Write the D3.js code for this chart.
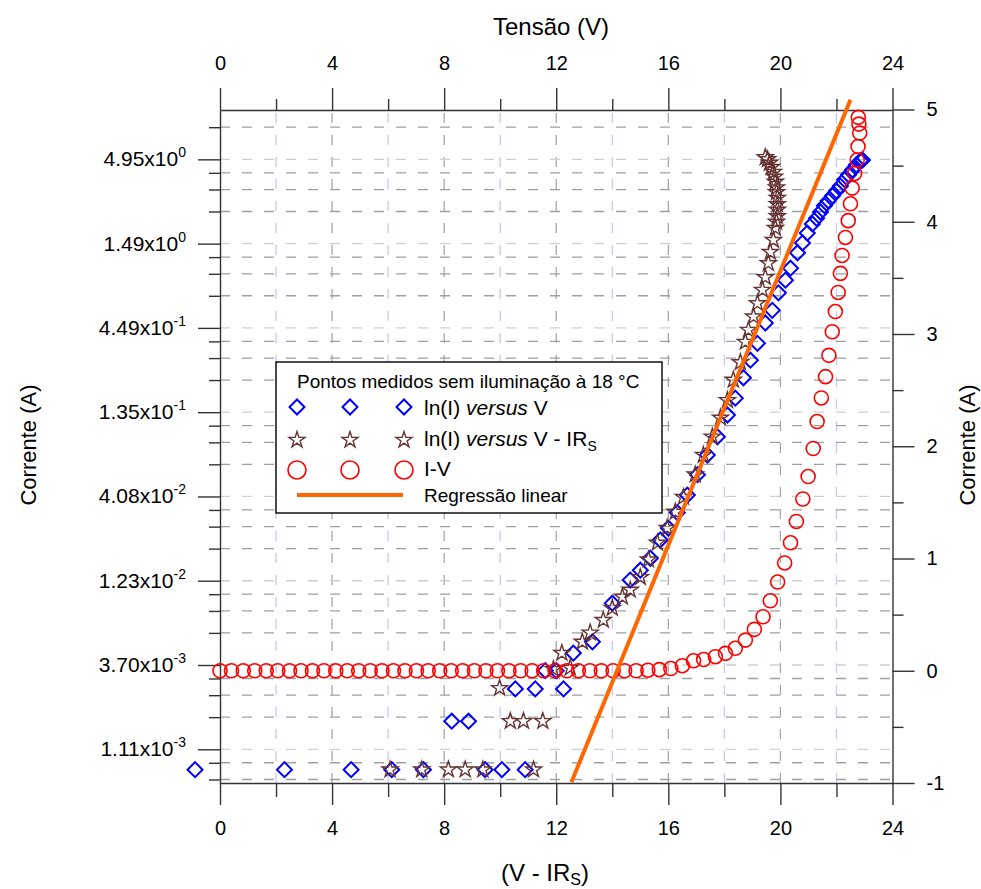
<!DOCTYPE html>
<html><head><meta charset="utf-8">
<script src="https://cdn.jsdelivr.net/npm/d3@7"></script>
<style>
body{margin:0;background:#fff}
svg{display:block}
text{font-family:"Liberation Sans",Arial,sans-serif;fill:#000}
</style>
</head><body>
<svg id="c" width="981" height="889"></svg>
<script>
// ---------- data ----------
const xTicks = [0, 4, 8, 12, 16, 20, 24];
const xMinorTicks = [2, 6, 10, 14, 18, 22];
const lnTicks = [-6.8, -5.6, -4.4, -3.2, -2.0, -0.8, 0.4, 1.6];
const lnTickMantissa = ["1.11", "3.70", "1.23", "4.08", "1.35", "4.49", "1.49", "4.95"];
const lnTickExponent = ["-3", "-3", "-2", "-2", "-1", "-1", "0", "0"];
const lnDomain = [-7.28, 2.3026];
const rightTicks = [-1, 0, 1, 2, 3, 4, 5];
const rightMinorTicks = [-0.5, 0.5, 1.5, 2.5, 3.5, 4.5];

// ln(I) versus V  (blue diamonds)
const diamondV = [-0.89, 2.30, 4.68, 6.13, 7.26, 8.27, 8.87, 9.46, 10.06, 10.89, 10.54, 11.25, 11.61, 12.0, 12.26,
  12.61, 13.29, 14.0, 14.64, 15.0, 15.36, 15.71, 16.0, 16.32, 16.68, 17.04, 17.39, 17.75, 18.11, 18.39, 18.68,
  18.93, 19.18, 19.46, 19.71, 19.93, 20.18, 20.36, 20.61, 20.79, 20.96, 21.14, 21.29, 21.43, 21.57, 21.71,
  21.86, 22.0, 22.14, 22.29, 22.43, 22.57, 22.71, 22.86, 22.93];
const diamondLn = [-7.09, -7.09, -7.09, -7.09, -7.09, -6.40, -6.40, -7.09, -7.09, -7.09, -5.94, -5.94, -5.68, -5.68, -5.94,
  -5.43, -5.27, -4.72, -4.39, -4.25, -4.08, -3.82, -3.65, -3.43, -3.18, -2.89, -2.61, -2.35, -2.04, -1.80, -1.51,
  -1.26, -1.02, -0.73, -0.55, -0.30, -0.12, 0.05, 0.27, 0.41, 0.55, 0.68, 0.76, 0.85, 0.94, 1.01,
  1.08, 1.15, 1.22, 1.31, 1.38, 1.45, 1.52, 1.58, 1.59];

// ln(I) versus V - IRs  (brown stars)
const starV = [6.07, 7.20, 8.15, 8.75, 9.38, 11.19, 9.98, 10.36, 10.83, 11.52, 11.90, 12.20, 12.50,
  12.93, 13.21, 13.68, 14.0, 14.36, 14.64, 15.0, 15.29, 15.61, 15.96, 16.25, 16.54, 16.96, 17.25, 17.57,
  17.86, 18.11, 18.32, 18.57, 18.75, 18.86, 19.04, 19.18, 19.36, 19.46, 19.57, 19.64, 19.75, 19.82, 19.86,
  19.89, 19.89, 19.89, 19.89, 19.86, 19.86, 19.82, 19.79, 19.75, 19.68, 19.61, 19.54, 19.46];
const starLn = [-7.09, -7.09, -7.09, -7.09, -7.09, -7.09, -5.93, -6.40, -6.40, -6.40, -5.66, -5.43, -5.64,
  -5.27, -5.14, -4.96, -4.79, -4.63, -4.53, -4.35, -4.10, -3.86, -3.65, -3.42, -3.21, -2.89, -2.61, -2.35,
  -2.08, -1.83, -1.54, -1.29, -1.00, -0.83, -0.64, -0.45, -0.26, -0.08, 0.12, 0.28, 0.45, 0.62, 0.71,
  0.79, 0.88, 0.96, 1.05, 1.13, 1.20, 1.28, 1.35, 1.42, 1.49, 1.55, 1.60, 1.63];

// I-V (red circles, right axis)
const ivV = [0, 0.41, 0.83, 1.24, 1.65, 2.06, 2.48, 2.89, 3.30, 3.71, 4.13, 4.54, 4.95, 5.36, 5.78, 6.19,
  6.60, 7.01, 7.43, 7.84, 8.25, 8.66, 9.08, 9.49, 9.90, 10.31, 10.73, 11.14, 11.55, 11.96, 12.38, 12.79,
  13.20, 13.61, 14.03, 14.44, 14.85, 15.27, 15.68, 16.09, 16.50, 16.90, 17.26, 17.68, 18.04, 18.39, 18.75,
  19.07, 19.38, 19.64, 19.90, 20.15, 20.36, 20.57, 20.80, 20.99, 21.17, 21.31, 21.46, 21.61, 21.73, 21.85,
  21.96, 22.06, 22.14, 22.20, 22.32, 22.42, 22.50, 22.56, 22.65, 22.74, 22.77, 22.83, 22.80, 22.78];
const ivI = [0, 0, 0, 0, 0, 0, 0, 0, 0, 0, 0, 0, 0, 0, 0, 0,
  0, 0, 0, 0, 0, 0, 0, 0, 0, 0, 0, 0, 0, 0, 0, 0,
  0, 0, 0, 0, 0, 0.005, 0.01, 0.02, 0.045, 0.089, 0.10, 0.125, 0.155, 0.20, 0.273,
  0.369, 0.481, 0.623, 0.79, 0.96, 1.14, 1.33, 1.53, 1.73, 1.98, 2.22, 2.43, 2.62, 2.81, 3.02,
  3.20, 3.37, 3.54, 3.70, 3.86, 4.01, 4.16, 4.30, 4.43, 4.55, 4.67, 4.79, 4.87, 4.93];

// linear regression (ln(I) = slope*V + intercept)
const regV = [12.54, 22.5];
const regSlope = 0.976;
const regIntercept = -19.51;

// ---------- drawing ----------
const svg = d3.select("#c");
const FONT = '"Liberation Sans",Arial,sans-serif';
const x = d3.scaleLinear().domain([0, 24]).range([220, 892.5]);
const yLn = d3.scaleLinear().domain(lnDomain).range([783, 110]);
const yI = d3.scaleLinear().domain([-1, 5]).range([783, 109.5]);
const fmt = d => String(d);

// left minor ticks (linear quarters between e-based majors)
const ext = [lnTicks[0] - 1.2, ...lnTicks, lnTicks[lnTicks.length - 1] + 1.2];
const lnMinor = [];
for (let i = 0; i < ext.length - 1; i++) {
  const a = Math.exp(ext[i]), b = Math.exp(ext[i + 1]);
  for (let j = 1; j <= 3; j++) {
    const v = Math.log(a + j * (b - a) / 4);
    if (v > lnDomain[0] && v < lnDomain[1]) lnMinor.push(v);
  }
}

// grid
const grid = svg.append("g");
xMinorTicks.forEach(t => grid.append("line").attr("x1", x(t)).attr("x2", x(t)).attr("y1", 783).attr("y2", 110)
  .attr("stroke", "#c8c8f4").attr("stroke-width", 1.3).attr("stroke-dasharray", "10,12"));
xTicks.filter(t => t > 0 && t < 24).forEach(t => grid.append("line").attr("x1", x(t)).attr("x2", x(t)).attr("y1", 783).attr("y2", 110)
  .attr("stroke", "#a8a8a8").attr("stroke-width", 1.3).attr("stroke-dasharray", "10,12"));
lnMinor.forEach(t => grid.append("line").attr("x1", 220).attr("x2", 892).attr("y1", yLn(t)).attr("y2", yLn(t))
  .attr("stroke", "#a0a0a0").attr("stroke-width", 1.3).attr("stroke-dasharray", "10,12"));
lnTicks.forEach(t => grid.append("line").attr("x1", 220).attr("x2", 892).attr("y1", yLn(t)).attr("y2", yLn(t))
  .attr("stroke", "#cfcfcf").attr("stroke-width", 1.3).attr("stroke-dasharray", "10,12"));

// axes
function styleAxis(g) {
  g.selectAll("path.domain").attr("stroke", "#333").attr("stroke-width", 1.4);
  g.selectAll("line").attr("stroke", "#333").attr("stroke-width", 1.4);
  g.selectAll("text").attr("font-size", 20).attr("font-family", FONT).attr("fill", "#000");
}
const gb = svg.append("g").attr("transform", "translate(0,783)")
  .call(d3.axisBottom(x).tickValues(xTicks).tickSize(22).tickSizeOuter(0).tickPadding(16).tickFormat(fmt));
gb.append("g").call(d3.axisBottom(x).tickValues(xMinorTicks).tickSize(14).tickFormat("")).select(".domain").remove();
styleAxis(gb);
const gt = svg.append("g").attr("transform", "translate(0,110)")
  .call(d3.axisTop(x).tickValues(xTicks).tickSize(22).tickSizeOuter(0).tickPadding(18).tickFormat(fmt));
gt.append("g").call(d3.axisTop(x).tickValues(xMinorTicks).tickSize(11).tickFormat("")).select(".domain").remove();
styleAxis(gt);
const gr = svg.append("g").attr("transform", "translate(892.5,0)")
  .call(d3.axisRight(yI).tickValues(rightTicks).tickSize(22).tickSizeOuter(0).tickPadding(12).tickFormat(fmt));
gr.append("g").call(d3.axisRight(yI).tickValues(rightMinorTicks).tickSize(11).tickFormat("")).select(".domain").remove();
styleAxis(gr);
gr.selectAll("text").attr("text-anchor", "start");
const gl = svg.append("g").attr("transform", "translate(220,0)")
  .call(d3.axisLeft(yLn).tickValues(lnTicks).tickSize(22).tickSizeOuter(0).tickFormat(""));
gl.append("g").call(d3.axisLeft(yLn).tickValues(lnMinor).tickSize(11).tickFormat("")).select(".domain").remove();
styleAxis(gl);
lnTicks.forEach((t, i) => {
  const tx = svg.append("text").attr("x", 186).attr("y", yLn(t) + 7).attr("text-anchor", "end")
    .attr("font-size", 21);
  tx.append("tspan").text(lnTickMantissa[i] + "x10");
  tx.append("tspan").attr("dy", -9).attr("font-size", 14).text(lnTickExponent[i]);
});

// titles
svg.append("text").attr("x", 551).attr("y", 35).attr("text-anchor", "middle").attr("font-size", 24).text("Tensão (V)");
const bt = svg.append("text").attr("x", 545).attr("y", 881).attr("text-anchor", "middle").attr("font-size", 24);
bt.append("tspan").text("(V - IR");
bt.append("tspan").attr("font-size", 16).attr("dy", 4).text("S");
bt.append("tspan").attr("dy", -4).text(")");
svg.append("text").attr("transform", "translate(36,445) rotate(-90)").attr("text-anchor", "middle").attr("font-size", 22).text("Corrente (A)");
svg.append("text").attr("transform", "translate(975,445) rotate(-90)").attr("text-anchor", "middle").attr("font-size", 22).text("Corrente (A)");

// markers
const diamondPath = d3.symbol(d3.symbolSquare, 112)();
const starPath = d3.symbol(d3.symbolStar, 80)();
const BLUE = "#0000ff", BROWN = "#663333", RED = "#ff0000", ORANGE = "#ff6600";

const diamonds = diamondV.map((v, i) => ({ v, l: diamondLn[i] }));
svg.append("g").selectAll("path").data(diamonds).join("path")
  .attr("d", diamondPath)
  .attr("transform", d => `translate(${x(d.v)},${yLn(d.l)}) rotate(45)`)
  .attr("fill", "none").attr("stroke", BLUE).attr("stroke-width", 2);

const stars = starV.map((v, i) => ({ v, l: starLn[i] }));
svg.append("g").selectAll("path").data(stars).join("path")
  .attr("d", starPath)
  .attr("transform", d => `translate(${x(d.v)},${yLn(d.l)})`)
  .attr("fill", "none").attr("stroke", BROWN).attr("stroke-width", 1.4);

const iv = ivV.map((v, i) => ({ v, c: ivI[i] }));
svg.append("g").selectAll("circle").data(iv).join("circle")
  .attr("cx", d => x(d.v)).attr("cy", d => yI(d.c)).attr("r", 7)
  .attr("fill", "none").attr("stroke", RED).attr("stroke-width", 1.6);

const reg = regV.map(v => ({ v, l: regSlope * v + regIntercept }));
svg.append("path").datum(reg)
  .attr("d", d3.line().x(d => x(d.v)).y(d => yLn(d.l)))
  .attr("stroke", ORANGE).attr("stroke-width", 4).attr("fill", "none");

// legend
const lg = svg.append("g");
lg.append("rect").attr("x", 276).attr("y", 362).attr("width", 386).attr("height", 151)
  .attr("fill", "#fff").attr("stroke", "#111").attr("stroke-width", 1.5);
lg.append("text").attr("x", 297).attr("y", 388).attr("font-size", 19).text("Pontos medidos sem iluminação à 18 °C");
const mx = [297, 350, 404];
mx.forEach(px => {
  lg.append("path").attr("d", diamondPath).attr("transform", `translate(${px},407) rotate(45)`)
    .attr("fill", "none").attr("stroke", BLUE).attr("stroke-width", 2);
  lg.append("path").attr("d", starPath).attr("transform", `translate(${px},440)`)
    .attr("fill", "none").attr("stroke", BROWN).attr("stroke-width", 1.4);
  lg.append("circle").attr("cx", px).attr("cy", 470).attr("r", 9)
    .attr("fill", "none").attr("stroke", RED).attr("stroke-width", 1.6);
});
lg.append("line").attr("x1", 297).attr("x2", 403).attr("y1", 495).attr("y2", 495)
  .attr("stroke", ORANGE).attr("stroke-width", 4);
const t1 = lg.append("text").attr("x", 424).attr("y", 415).attr("font-size", 21);
t1.append("tspan").text("ln(I) ");
t1.append("tspan").attr("font-style", "italic").text("versus");
t1.append("tspan").text(" V");
const t2 = lg.append("text").attr("x", 424).attr("y", 446).attr("font-size", 21);
t2.append("tspan").text("ln(I) ");
t2.append("tspan").attr("font-style", "italic").text("versus");
t2.append("tspan").text(" V - IR");
t2.append("tspan").attr("font-size", 14).attr("dy", 5).text("S");
lg.append("text").attr("x", 424).attr("y", 476).attr("font-size", 21).text("I-V");
lg.append("text").attr("x", 424).attr("y", 502).attr("font-size", 19).text("Regressão linear");
</script>
</body></html>
